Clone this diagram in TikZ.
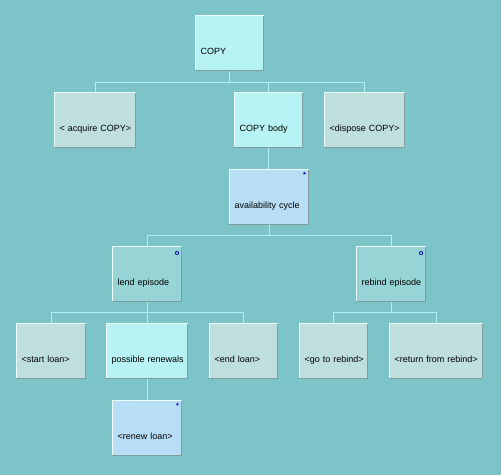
\documentclass[tikz,border=0pt]{standalone}
\usepackage{fontspec}
\setmainfont{Liberation Sans}
\definecolor{bgcol}{RGB}{125,196,200}
\definecolor{cyanbox}{RGB}{183,242,244}
\definecolor{graybox}{RGB}{191,222,222}
\definecolor{bluebox}{RGB}{184,222,246}
\definecolor{tealbox}{RGB}{150,212,214}
\definecolor{conncol}{RGB}{178,238,242}
\definecolor{shadowcol}{RGB}{128,156,158}
\definecolor{hilitecol}{RGB}{236,252,252}
\definecolor{markcol}{RGB}{0,0,170}
\tikzset{
  box/.style={rectangle, anchor=north west, inner xsep=0pt, inner ysep=0pt,
    minimum height=56pt, align=left, text height=23.6pt, text depth=2pt,
    font=\fontsize{9}{10}\selectfont, execute at begin node={\hspace*{5.5pt}}},
  cbox/.style={box, fill=cyanbox},
  gbox/.style={box, fill=graybox},
  bbox/.style={box, fill=bluebox},
  tbox/.style={box, fill=tealbox},
  wire/.style={draw=conncol, line width=1pt},
  mk/.style={inner sep=0pt, text=markcol, font=\fontsize{7.5}{7.5}\selectfont\bfseries},
}
\begin{document}
\begin{tikzpicture}[x=1pt,y=-1pt]
\fill[bgcol] (0,0) rectangle (501,475);
\useasboundingbox (0,0) rectangle (501,475);
% nodes
\node[cbox, text width=69pt] (copy) at (195,15) {COPY};
\node[gbox, text width=82pt] (acq) at (54,92) {< acquire COPY>};
\node[cbox, text width=69pt] (body) at (234,92) {COPY body};
\node[gbox, text width=81pt] (disp) at (324,92) {<dispose COPY>};
\node[bbox, text width=80pt] (avail) at (229,169) {availability cycle};
\node[tbox, text width=70pt] (lend) at (112,246) {lend episode};
\node[tbox, text width=70pt] (rebind) at (356,246) {rebind episode};
\node[gbox, text width=70pt] (start) at (16,323) {<start loan>};
\node[cbox, text width=82pt] (renewals) at (106,323) {possible renewals};
\node[gbox, text width=69pt] (endl) at (209,323) {<end loan>};
\node[gbox, text width=69pt] (goreb) at (299,323) {<go to rebind>};
\node[gbox, text width=94pt] (retreb) at (389,323) {<return from rebind>};
\node[bbox, text width=70pt] (renew) at (112,400) {<renew loan>};
% bevel edges
\foreach \n in {copy,acq,body,disp,avail,lend,rebind,start,renewals,endl,goreb,retreb,renew}{
  \draw[draw=hilitecol, line width=1pt] ([xshift=0.5pt]\n.south west) -- ([xshift=0.5pt,yshift=-0.5pt]\n.north west) -- ([yshift=-0.5pt]\n.north east);
  \draw[draw=shadowcol, line width=1pt] ([xshift=-0.5pt,yshift=-0.5pt]\n.north east) -- ([xshift=-0.5pt,yshift=0.5pt]\n.south east) -- ([yshift=0.5pt]\n.south west);
}
% markers
\node[mk] (m1) at ([xshift=-4.7pt,yshift=-5.5pt]avail.north east) {*};
\node[mk] (m2) at ([xshift=-4.7pt,yshift=-5.5pt]renew.north east) {*};
\node[mk] (m3) at ([xshift=-5.3pt,yshift=-7.7pt]lend.north east) {o};
\node[mk] (m4) at ([xshift=-5.3pt,yshift=-7.7pt]rebind.north east) {o};
% connectors
\path (copy.south) ++(0,11) coordinate (b1);
\draw[wire] (copy.south) -- (b1);
\draw[wire] (b1) -| (acq.north);
\draw[wire] (b1) -| (body.north);
\draw[wire] (b1) -| (disp.north);
\draw[wire] (body.south) -- (body.south |- avail.north);
\path (avail.south) ++(0,10) coordinate (b2);
\draw[wire] (avail.south) -- (b2);
\draw[wire] (b2) -| (lend.north);
\draw[wire] (b2) -| (rebind.north);
\path (lend.south) ++(0,10) coordinate (b3);
\draw[wire] (lend.south) -- (b3);
\draw[wire] (b3) -| (start.north);
\draw[wire] (b3) -| (renewals.north);
\draw[wire] (b3) -| (endl.north);
\path (rebind.south) ++(0,10) coordinate (b4);
\draw[wire] (rebind.south) -- (b4);
\draw[wire] (b4) -| (goreb.north);
\draw[wire] (b4) -| (retreb.north);
\draw[wire] (renewals.south) -- (renew.north);
\end{tikzpicture}
\end{document}
